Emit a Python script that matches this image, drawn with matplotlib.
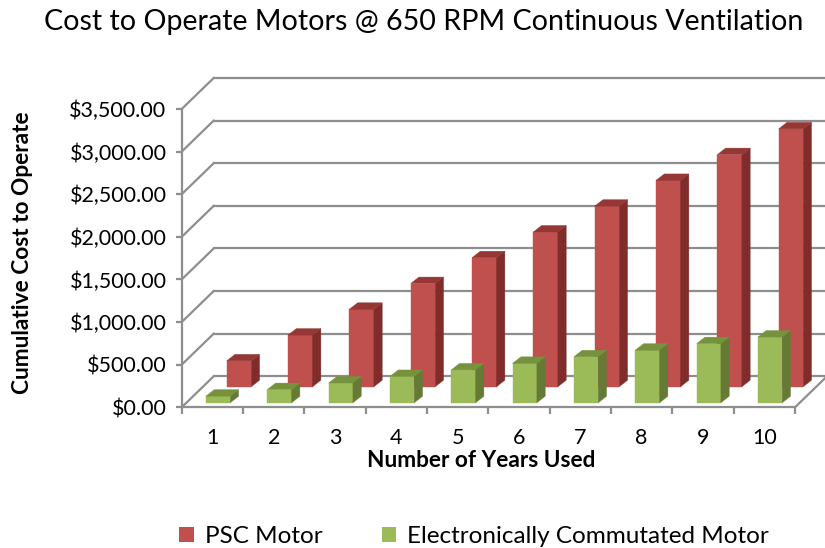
import matplotlib
matplotlib.use("Agg")
import matplotlib.pyplot as plt
from matplotlib.patches import Polygon, Patch

plt.rcParams['font.family'] = ['Lato', 'DejaVu Sans']

years = ['1', '2', '3', '4', '5', '6', '7', '8', '9', '10']
psc_cost = [303, 605, 908, 1210, 1513, 1815, 2118, 2420, 2723, 3025]
ec_cost = [77, 154, 231, 308, 385, 462, 539, 616, 693, 770]
y_ticks = [0, 500, 1000, 1500, 2000, 2500, 3000, 3500]
series = ['PSC Motor', 'Electronically Commutated Motor']

GRID = '#8e8e8e'
W, H = 825, 548
# fake 3d: depth of the floor/back wall and of the bars, in data units
WALL_DX, WALL_DY = 0.522, 364
BAR_DX, BAR_DY = 0.135, 76


def bar3d(ax, x0, base, h, w, front, side, top):
    """Draw one pseudo-3d column with front, side and top faces."""
    faces = [
        ([(x0, base), (x0 + w, base), (x0 + w, base + h), (x0, base + h)], front),
        ([(x0 + w, base), (x0 + w + BAR_DX, base + BAR_DY),
          (x0 + w + BAR_DX, base + h + BAR_DY), (x0 + w, base + h)], side),
        ([(x0, base + h), (x0 + BAR_DX, base + h + BAR_DY),
          (x0 + w + BAR_DX, base + h + BAR_DY), (x0 + w, base + h)], top),
    ]
    for pts, c in faces:
        ax.add_patch(Polygon(pts, closed=True, facecolor=c, edgecolor=c,
                             lw=0.3, clip_on=False, zorder=3))


fig = plt.figure(figsize=(W / 100, H / 100), dpi=100)
renderer = fig.canvas.get_renderer()


def size_for(s, px, rotation=0, **kw):
    """Font size that makes string s about px pixels long."""
    t = fig.text(0, 0, s, fontsize=10, rotation=rotation, **kw)
    bb = t.get_window_extent(renderer)
    t.remove()
    return 10 * px / (bb.height if rotation else bb.width)


ax = fig.add_axes([181.7 / W, 1 - 407.3 / H, 613.3 / W, 298.3 / H])
ax.set_xlim(0, 10)
ax.set_ylim(0, 3500)
ax.patch.set_alpha(0)

# walls
n = len(years)
for v in y_ticks:
    ax.plot([0, WALL_DX], [v, v + WALL_DY], color=GRID, lw=1.6, clip_on=False, zorder=1)
    ax.plot([WALL_DX, n + WALL_DX], [v + WALL_DY] * 2, color=GRID, lw=1.6,
            clip_on=False, zorder=1)
ax.plot([n, n + WALL_DX], [0, WALL_DY], color=GRID, lw=1.6, clip_on=False, zorder=1)

# back row: PSC, front row: EC
for i, v in enumerate(psc_cost):
    bar3d(ax, i + 0.734, 242, v, 0.40, '#C0504D', '#7F2C2A', '#953734')
for i, v in enumerate(ec_cost):
    bar3d(ax, i + 0.396, 54, v, 0.396, '#9BBB59', '#647A35', '#76923C')

for s in ['top', 'right']:
    ax.spines[s].set_visible(False)
for s in ['left', 'bottom']:
    ax.spines[s].set_color(GRID)
    ax.spines[s].set_linewidth(1.6)

tick_labels = [f'${v:,.2f}' for v in y_ticks]
ax.set_yticks(y_ticks)
ax.set_yticklabels(tick_labels)
ax.tick_params(axis='y', length=4, width=1.6, color=GRID, pad=7,
               labelsize=size_for(tick_labels[-1], 97))

ax.set_xticks(range(n + 1))
ax.set_xticklabels([])
ax.set_xticks([i + 0.5 for i in range(n)], minor=True)
ax.set_xticklabels(years, minor=True)
ax.tick_params(axis='x', which='major', length=5, width=1.6, color=GRID)
ax.tick_params(axis='x', which='minor', length=0, pad=15, labelsize=15.5)

xl = 'Number of Years Used'
ax.set_xlabel(xl, fontsize=size_for(xl, 230, fontweight='bold'), fontweight='bold',
              va='top')
ax.xaxis.set_label_coords((481 - 181.7) / 613.3, (407.3 - 450) / 298.3)

yl = 'Cumulative Cost to Operate'
fig.text(23 / W, 1 - 253 / H, yl, rotation=90, ha='center', va='center',
         fontsize=size_for(yl, 283, rotation=90, fontweight='bold'), fontweight='bold')

title = 'Cost to Operate Motors @ 650 RPM Continuous Ventilation'
fig.text(424 / W, 1 - 22 / H, title, ha='center', va='center',
         fontsize=size_for(title, 758))

handles = [Patch(facecolor='#C0504D', edgecolor='none'),
           Patch(facecolor='#9BBB59', edgecolor='none')]
fig.legend(handles, series, ncol=2, loc='lower left',
           bbox_to_anchor=(179 / W, 0.002), frameon=False, borderpad=0,
           borderaxespad=0, fontsize=size_for(series[1], 363), handlelength=0.6,
           handleheight=0.6, handletextpad=0.45, columnspacing=2.45)

fig.savefig('out.png', dpi=100)
